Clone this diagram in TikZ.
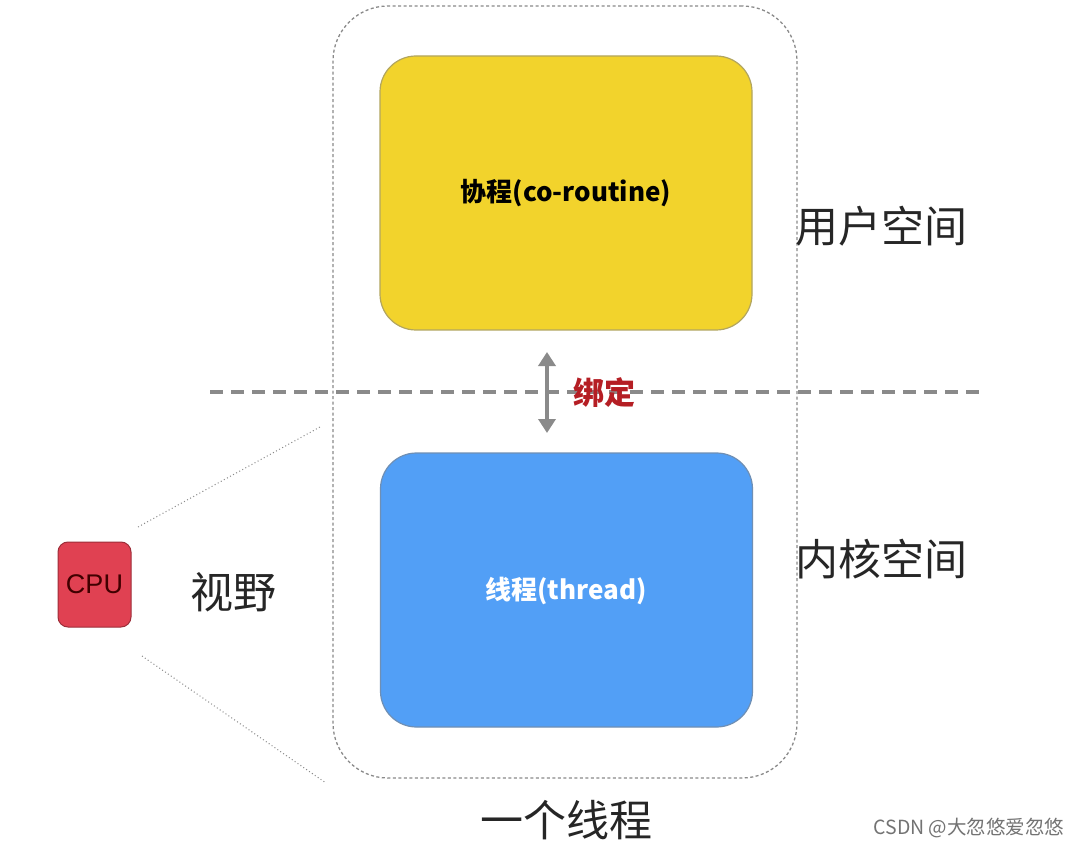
\documentclass[tikz,border=0pt]{standalone}
\usepackage{fontspec}
\setmainfont{Noto Sans CJK SC}
\newfontfamily\cjk{Noto Sans CJK SC}
\usetikzlibrary{arrows.meta}
\definecolor{yel}{HTML}{F2D32C}
\definecolor{blu}{HTML}{529FF6}
\definecolor{cpured}{HTML}{E04152}
\definecolor{bindred}{HTML}{B51E24}
\definecolor{lgray}{HTML}{8A8A8A}
\begin{document}
\begin{tikzpicture}[x=1pt,y=-1pt,
  bigbox/.style={draw=#1!60!black!70, line width=1.2pt, rounded corners=36pt, minimum width=372pt, minimum height=274pt, inner sep=0pt},
  biglabel/.style={font=\cjk\fontsize{43}{45}\selectfont, text=black!85, inner sep=0pt},
  boxtext/.style={font=\cjk\bfseries\fontsize{26}{28}\selectfont, inner sep=0pt}]
\useasboundingbox (0,0) rectangle (1080,845);
\fill[white] (0,0) rectangle (1080,845);
% outer dashed container
\node[draw=lgray, dash pattern=on 3pt off 2.5pt, line width=1.3pt, rounded corners=55pt,
  minimum width=464pt, minimum height=772pt, inner sep=0pt] (outer) at (565,392) {};
% yellow box
\node[bigbox=yel, fill=yel] (co) at (566,193) {};
\node[boxtext, text=black] (cot) at (566,193) {协程(co-routine)};
% blue box
\node[bigbox=blu, fill=blu] (th) at (566.5,590) {};
\node[boxtext, text=white] (tht) at (566,591) {线程(thread)};
% dashed divider
\coordinate (dl) at (210,392);
\coordinate (dr) at (980,392);
\draw[lgray, line width=4pt, dash pattern=on 13pt off 8pt] (dl) -- (dr);
% binding arrow
\coordinate (at) at (547,352);
\coordinate (ab) at (547,433);
\draw[lgray, line width=4pt, {Triangle[length=14pt,width=17pt]}-{Triangle[length=14pt,width=17pt]}] (at) -- (ab);
\node[font=\cjk\bfseries\fontsize{31}{33}\selectfont, text=bindred, inner sep=0pt] (bind) at (604,393) {绑定};
% labels
\node[biglabel] (user) at (881,226) {用户空间};
\node[biglabel] (kern) at (881,559) {内核空间};
\node[biglabel] (view) at (233,592) {视野};
\node[biglabel] (one) at (566,820) {一个线程};
% CPU
\node[draw=cpured!70!black, fill=cpured, line width=1pt, rounded corners=10pt,
  minimum width=73pt, minimum height=85pt, inner sep=0pt,
  font=\fontspec{Liberation Sans}\fontsize{27}{29}\selectfont, text=black!75!red] (cpu) at (94.5,584.5) {CPU};
% dotted view lines
\coordinate (v1a) at (138,527);
\coordinate (v1b) at (320,427);
\coordinate (v2a) at (142,656);
\coordinate (v2b) at (326,783);
\draw[lgray, line width=1pt, dash pattern=on 1pt off 2.5pt] (v1a) -- (v1b);
\draw[lgray, line width=1pt, dash pattern=on 1pt off 2.5pt] (v2a) -- (v2b);
% watermark
\node[font=\cjk\fontsize{19.5}{21}\selectfont, text=black!55, inner sep=0pt] (wm) at (969,828) {CSDN @大忽悠爱忽悠};
\end{tikzpicture}
\end{document}
